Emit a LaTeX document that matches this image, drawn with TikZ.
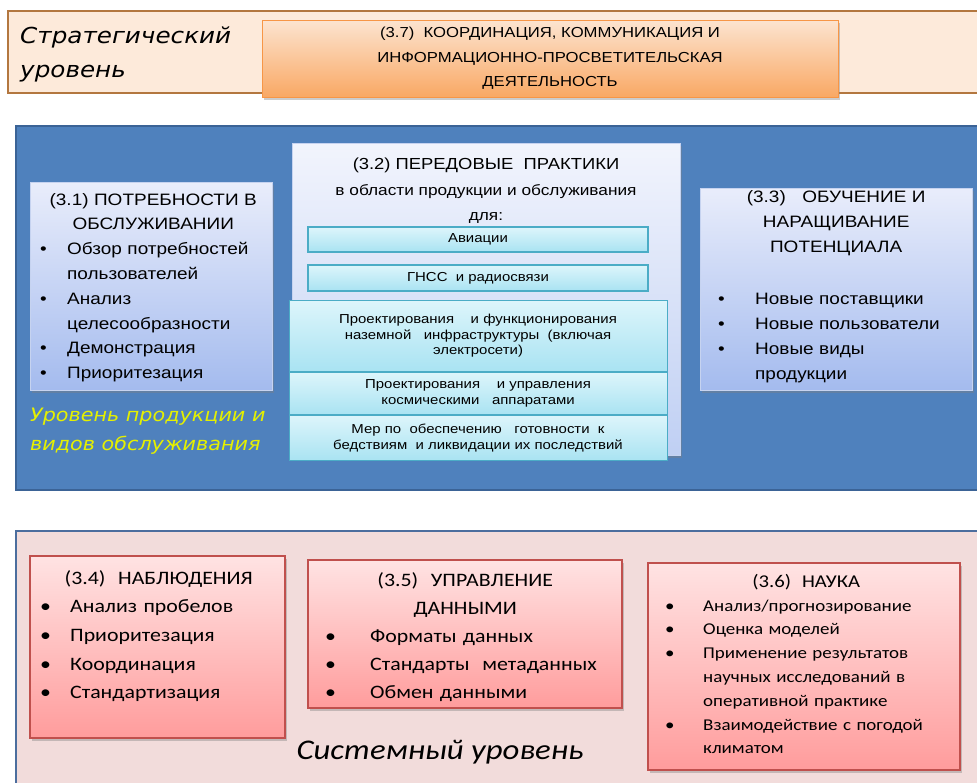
\documentclass[tikz,border=0pt]{standalone}
\usepackage{fontspec}
\setmainfont[FakeStretch=1.15]{Liberation Sans}
\newfontfamily\calfont[FakeStretch=1.15]{Carlito}
\newfontfamily\widefont[FakeStretch=1.12]{DejaVu Sans}
\usetikzlibrary{positioning,shadows}

\definecolor{peach}{HTML}{FDEADA}
\definecolor{peachline}{HTML}{B3773F}
\definecolor{orangetop}{HTML}{FCE4D0}
\definecolor{orangebot}{HTML}{F9A864}
\definecolor{orangeline}{HTML}{F79646}
\definecolor{bluepanel}{HTML}{4F81BD}
\definecolor{bluepanelline}{HTML}{3B6396}
\definecolor{bluetop}{HTML}{E9EDFB}
\definecolor{bluebot}{HTML}{A4BBEE}
\definecolor{blueline}{HTML}{C6D3F0}
\definecolor{cyantop}{HTML}{DDF5FB}
\definecolor{cyanbot}{HTML}{A9E3F2}
\definecolor{cyanline}{HTML}{4BACC6}
\definecolor{pinkpanel}{HTML}{F2DCDB}
\definecolor{pinkline}{HTML}{4C6E9E}
\definecolor{redtop}{HTML}{FFE3E3}
\definecolor{redbot}{HTML}{FF9C9C}
\definecolor{redline}{HTML}{C0504D}
\definecolor{levelyellow}{HTML}{E5F000}

% bullet line with hanging indent
\newcommand{\bitem}[3][0pt]{\par\noindent\hangindent=#2\hangafter=1\makebox[#2][l]{\hspace{#1}\textbullet}#3\par}

\begin{document}
\begin{tikzpicture}[x=1pt, y=-1pt,
  panel/.style={draw, anchor=north west, inner sep=0pt, outer sep=0pt},
  main box/.style={draw, anchor=north west, inner sep=0pt, outer sep=0pt, line width=0.8pt,
    drop shadow={opacity=0.4, shadow xshift=2pt, shadow yshift=-3pt}},
  blue box/.style={main box, draw=blueline, top color=bluetop, bottom color=bluebot},
  red box/.style={main box, draw=redline, line width=1.2pt, top color=redtop, bottom color=redbot},
  sub box/.style={draw=cyanline, line width=1pt, top color=cyantop, bottom color=cyanbot, inner sep=0pt,
    minimum width=378pt, align=center, font=\fontsize{13}{15.5}\selectfont},
  box text/.style={anchor=north west, inner sep=0pt, align=left}]
\useasboundingbox (0,0) rectangle (977,782);

% strategic level
\node[panel, fill=peach, draw=peachline, line width=1.8pt, minimum width=975pt, minimum height=82pt] (strat) at (8,11) {};
\node[box text, font=\widefont\itshape\fontsize{22}{34}\selectfont] (stratlbl) at (20,27) {Стратегический\\уровень};
\node[main box, draw=orangeline, line width=1pt, top color=orangetop, bottom color=orangebot,
  minimum width=576pt, minimum height=77pt, align=center, font=\fontsize{14.5}{24.5}\selectfont] (b37) at (262,20)
  {(3.7)\ \ КООРДИНАЦИЯ, КОММУНИКАЦИЯ И\\ИНФОРМАЦИОННО-ПРОСВЕТИТЕЛЬСКАЯ\\ДЕЯТЕЛЬНОСТЬ};

% product and service level
\node[panel, fill=bluepanel, draw=bluepanelline, line width=1.4pt, minimum width=964pt, minimum height=364pt] (prod) at (16,126) {};

\node[blue box, minimum width=242pt, minimum height=208pt] (b31) at (30,182) {};
\node[box text, text width=232pt, font=\fontsize{16.5}{24.8}\selectfont] (t31) at ([xshift=7pt, yshift=-11pt]b31.north west) {%
  {\centering (3.1) ПОТРЕБНОСТИ В\\ОБСЛУЖИВАНИИ\par}
  \bitem[3pt]{30pt}{Обзор потребностей пользователей}
  \bitem[3pt]{30pt}{Анализ\newline целесообразности}
  \bitem[3pt]{30pt}{Демонстрация}
  \bitem[3pt]{30pt}{Приоритезация}};

\node[blue box, draw=blueline, top color=bluetop!60!white, bottom color=bluebot!70!white, minimum width=388pt, minimum height=312pt] (b32) at (292,143) {};
\node[anchor=north, inner sep=0pt, align=center, font=\fontsize{16}{25.5}\selectfont] (t32) at ([yshift=-15pt]b32.north)
  {(3.2) ПЕРЕДОВЫЕ\ \ ПРАКТИКИ\\{\fontsize{15}{25.5}\selectfont в области продукции и обслуживания}\\{\fontsize{15}{25.5}\selectfont для:}};
\node[sub box, minimum width=340pt, minimum height=25pt, line width=2pt] (avia) at (478,239.5) {Авиации};
\node[sub box, minimum width=340pt, minimum height=26pt, line width=2pt, below=11pt of avia] (gnss) {ГНСС\ \ и радиосвязи};
\node[sub box, minimum height=71pt, below=8pt of gnss] (ground)
  {Проектирования\ \ \ \ и функционирования\\наземной\ \ \ инфраструктуры\ \ (включая\\электросети)};
\node[sub box, minimum height=42pt, below=0pt of ground] (space)
  {Проектирования\ \ \ \ и управления\\космическими\ \ \ аппаратами};
\node[sub box, minimum height=45pt, below=0pt of space] (disaster)
  {Мер по\ \ обеспечению\ \ \ готовности\ \ к\\бедствиям\ \ и ликвидации их последствий};

\node[blue box, minimum width=272pt, minimum height=202pt] (b33) at (700,188) {};
\node[box text, text width=262pt, font=\fontsize{16.5}{25}\selectfont] (t33) at ([xshift=5pt, yshift=-2pt]b33.north west) {%
  {\centering (3.3)\ \ \ ОБУЧЕНИЕ И\\НАРАЩИВАНИЕ\\ПОТЕНЦИАЛА\par}
  \vspace{27pt}
  \bitem[13pt]{50pt}{Новые поставщики}
  \bitem[13pt]{50pt}{Новые пользователи}
  \bitem[13pt]{50pt}{Новые виды\newline продукции}};

\node[box text, font=\widefont\itshape\fontsize{18.5}{29}\selectfont, text=levelyellow] (prodlbl) at (30,408)
  {Уровень продукции и\\видов обслуживания};

% system level
\node[panel, fill=pinkpanel, draw=pinkline, line width=1.4pt, minimum width=964pt, minimum height=260pt] (sys) at (16,531) {};

\node[red box, minimum width=255pt, minimum height=182pt] (b34) at (30,556) {};
\node[box text, text width=245pt, font=\calfont\fontsize{19}{28.7}\selectfont] (t34) at ([xshift=6pt, yshift=-14pt]b34.north west) {%
  {\centering (3.4)\ \ НАБЛЮДЕНИЯ\par}
  \bitem[4pt]{34pt}{Анализ пробелов}
  \bitem[4pt]{34pt}{Приоритезация}
  \bitem[4pt]{34pt}{Координация}
  \bitem[4pt]{34pt}{Стандартизация}};

\node[red box, minimum width=314pt, minimum height=148pt] (b35) at (308,560) {};
\node[box text, text width=302pt, font=\calfont\fontsize{19}{28}\selectfont] (t35) at ([xshift=6pt, yshift=-12pt]b35.north west) {%
  {\centering (3.5)\ \ УПРАВЛЕНИЕ\\ДАННЫМИ\par}
  \bitem[11pt]{56pt}{Форматы данных}
  \bitem[11pt]{56pt}{Стандарты\ \ метаданных}
  \bitem[11pt]{56pt}{Обмен данными}};

\node[red box, minimum width=312pt, minimum height=207pt] (b36) at (648,563) {};
\node[box text, text width=300pt, font=\calfont\fontsize{16.5}{23.8}\selectfont] (t36) at ([xshift=8pt, yshift=-11pt]b36.north west) {%
  {\centering\fontsize{18}{24}\selectfont (3.6)\ \ НАУКА\par}
  \bitem[9pt]{47pt}{Анализ/прогнозирование}
  \bitem[9pt]{47pt}{Оценка моделей}
  \bitem[9pt]{47pt}{Применение результатов\newline научных исследований в\newline оперативной практике}
  \bitem[9pt]{47pt}{Взаимодействие с погодой\newline климатом}};

\node[font=\calfont\itshape\fontsize{28.5}{30}\selectfont, inner sep=0pt] (syslbl) at (440,752) {Системный уровень};
\end{tikzpicture}
\end{document}
